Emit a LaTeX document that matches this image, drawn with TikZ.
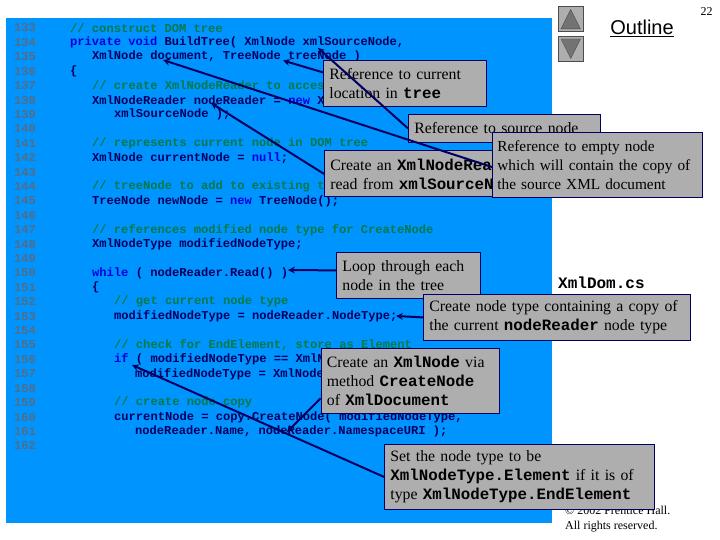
\documentclass[tikz,border=0pt]{standalone}
\usepackage{fontspec}
\setmainfont{Liberation Serif}
\setmonofont{Liberation Mono}
\newfontfamily\outlinefont{Liberation Sans}

\definecolor{slideblue}{RGB}{0,148,255}
\definecolor{notegray}{RGB}{174,174,174}
\definecolor{codeink}{RGB}{0,0,96}
\definecolor{kwblue}{RGB}{0,0,224}
\definecolor{cmtgreen}{RGB}{0,122,72}
\definecolor{numgray}{RGB}{85,108,132}

\newcommand{\kw}[1]{\textcolor{kwblue}{#1}}
\newcommand{\cd}[1]{{\ttfamily\bfseries #1}}

\tikzstyle{code} = [anchor=west, inner sep=0pt, text=codeink,%
                    font=\ttfamily\bfseries\fontsize{12.1}{14}\selectfont]
\tikzstyle{cmt} = [code, text=cmtgreen]
\tikzstyle{num} = [code, text=numgray]
\tikzstyle{note} = [draw=codeink, fill=notegray, thick, align=left, anchor=north west,%
                    inner xsep=6pt, inner ysep=0pt, font=\fontsize{15.8}{19}\selectfont]
\tikzstyle{pointer} = [draw=codeink, line width=2pt, ->, >=stealth]
\tikzstyle{btn} = [draw=black!70, fill=notegray, minimum size=25pt, inner sep=0pt, anchor=north west]

\begin{document}
\begin{tikzpicture}[x=1pt, y=-1pt]
	\useasboundingbox (0,0) rectangle (720,540);

	\node (slide) [fill=slideblue, inner sep=0pt, minimum width=546pt, minimum height=505pt, anchor=north west] at (6,18) {};

	% line numbers
	\foreach \n in {133,...,162}
		\node (n\n) [num] at (14,{28+(\n-133)*14.41}) {\n};

	\node (c133) [cmt]  at (70,28)    {// construct DOM tree};
	\node (c134) [code] at (70,42.4)  {\kw{private void} BuildTree( XmlNode xmlSourceNode,};
	\node (c135) [code] at (92,56.8)  {XmlNode document, TreeNode treeNode )};
	\node (c136) [code] at (70,71.2)  {\{};
	\node (c137) [cmt]  at (92,85.6)  {// create XmlNodeReader to acces};
	\node (c138) [code] at (92,100.1) {XmlNodeReader nodeReader = \kw{new} X};
	\node (c139) [code] at (114,114.5) {xmlSourceNode );};
	\node (c141) [cmt]  at (92,143.3) {// represents current node in DOM tree};
	\node (c142) [code] at (92,157.7) {XmlNode currentNode = \kw{null};};
	\node (c144) [cmt]  at (92,186.5) {// treeNode to add to existing t};
	\node (c145) [code] at (92,200.9) {TreeNode newNode = \kw{new} TreeNode();};
	\node (c147) [cmt]  at (92,229.8) {// references modified node type for CreateNode};
	\node (c148) [code] at (92,244.2) {XmlNodeType modifiedNodeType;};
	\node (c150) [code] at (92,273)   {\kw{while} ( nodeReader.Read() )};
	\node (c151) [code] at (92,287.4) {\{};
	\node (c152) [cmt]  at (114,301.7) {// get current node type};
	\node (c153) [code] at (114,316.2) {modifiedNodeType = nodeReader.NodeType;};
	\node (c155) [cmt]  at (114,345)  {// check for EndElement, store as Element};
	\node (c156) [code] at (114,359.4) {\kw{if} ( modifiedNodeType == XmlN};
	\node (c157) [code] at (135,373.8) {modifiedNodeType = XmlNode};
	\node (c159) [cmt]  at (114,402.6) {// create node copy};
	\node (c160) [code] at (114,417)  {currentNode = copy.CreateNode( modifiedNodeType,};
	\node (c161) [code] at (135,431.4) {nodeReader.Name, nodeReader.NamespaceURI );};

	% side of the slide
	\node (btnUp) [btn] at (558,6.5) {};
	\node (btnDown) [btn] at (558,36) {};
	\fill[black!55, draw=black!70] ([xshift=3pt,yshift=3pt]btnUp.south west) -- ([xshift=-3pt,yshift=3pt]btnUp.south east) -- ([yshift=-3pt]btnUp.north) -- cycle;
	\fill[black!55, draw=black!70] ([xshift=3pt,yshift=-3pt]btnDown.north west) -- ([xshift=-3pt,yshift=-3pt]btnDown.north east) -- ([yshift=3pt]btnDown.south) -- cycle;
	\node (outline) [font=\outlinefont\fontsize{20}{24}\selectfont, inner sep=0pt] at (642,28) {\underline{Outline}};
	\node (page) [font=\fontsize{12}{14}\selectfont, inner sep=0pt] at (706.5,12) {22};
	\node (file) [font=\ttfamily\bfseries\fontsize{16}{19}\selectfont, inner sep=0pt, anchor=west] at (558,283) {XmlDom.cs};
	\node (copyr) [font=\fontsize{12}{15.5}\selectfont, inner sep=0pt, align=left, anchor=north west] at (565,505.5) {© 2002 Prentice Hall.\\All rights reserved.};

	% targets of the pointers
	\coordinate (tipTree) at (283,60.5);
	\coordinate (tipSource) at (318,48);
	\coordinate (tipDoc) at (163,60);
	\coordinate (tipReader) at (211,103);
	\coordinate (tipWhile) at (288,270);
	\coordinate (tipType) at (396,316);
	\coordinate (tipCreate) at (287,432);
	\coordinate (tipIf) at (132,365);
	\coordinate (tailDoc) at (492,167);

	\node (current) [note, text width=151pt, minimum height=46pt] at (323,60) {Reference to current\\location in \cd{tree}};
	\node (source) [note, text width=180pt, minimum height=28pt] at (408,114) {Reference to source node};
	\node (reader) [note, text width=260pt, minimum height=46pt] at (324,150.5) {Create an \cd{XmlNodeRea}\\read from \cd{xmlSourceN}};

	\draw[pointer] ([yshift=11pt]current.west) -- (tipTree);
	\draw[pointer] (source.west) -- (tipSource);
	\draw[pointer] (reader.west) -- (tipReader);
	\draw[pointer] (tailDoc) -- (tipDoc);

	\node (empty) [note, inner xsep=5pt, text width=200pt, minimum height=65pt, font=\fontsize{15.3}{19}\selectfont] at (492,132) {Reference to empty node\\which will contain the copy of\\the source XML document};

	\node (loop) [note, text width=132pt, minimum height=46pt] at (336,252) {Loop through each\\node in the tree};
	\node (nodeType) [note, text width=255pt, minimum height=46pt] at (423,294) {Create node type containing a copy of\\the current \cd{nodeReader} node type};
	\node (createNode) [note, text width=166pt, minimum height=65pt] at (320.5,348) {Create an \cd{XmlNode} via\\method \cd{CreateNode}\\of \cd{XmlDocument}};
	\node (setType) [note, text width=258pt, minimum height=65pt] at (384,444) {Set the node type to be\\\cd{XmlNodeType.Element} if it is of\\type \cd{XmlNodeType.EndElement}};

	\draw[pointer] ([yshift=5pt]loop.west) -- (tipWhile);
	\draw[pointer] (nodeType.west) -- (tipType);
	\draw[pointer] ([yshift=-17.5pt]createNode.west) -- (tipCreate);
	\draw[pointer] (setType.west) -- (tipIf);
\end{tikzpicture}
\end{document}
